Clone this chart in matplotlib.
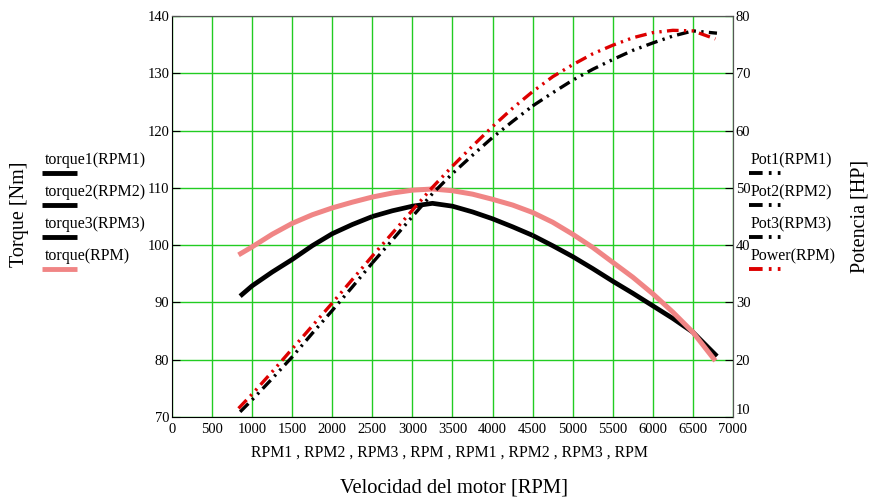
import matplotlib.pyplot as plt
from matplotlib.lines import Line2D

plt.rcParams['font.family'] = ['Liberation Serif', 'DejaVu Serif']

# ---------------- Data -------------------------------------
# torque1/2/3 share one black curve, split by speed range
rpm1 = [850, 1000, 1250, 1500, 1750, 2000, 2250, 2500]
torque1 = [91.1, 92.9, 95.3, 97.5, 99.9, 102.0, 103.6, 105.0]
rpm2 = [2500, 2750, 3000, 3250, 3500, 3750, 4000, 4250, 4500]
torque2 = [105.0, 106.0, 106.8, 107.3, 106.8, 105.8, 104.6, 103.2, 101.7]
rpm3 = [4500, 4750, 5000, 5250, 5500, 5750, 6000, 6250, 6500, 6800]
torque3 = [101.7, 99.9, 98.0, 95.9, 93.7, 91.6, 89.4, 87.2, 84.8, 80.6]

pot1 = [10.9, 13.0, 16.7, 20.5, 24.6, 28.6, 32.7, 36.9]
pot2 = [36.9, 40.9, 45.0, 49.0, 52.5, 55.7, 58.8, 61.6, 64.3]
pot3 = [64.3, 66.6, 68.8, 70.7, 72.4, 74.0, 75.3, 76.5, 77.4, 77.0]

rpm = [830, 1000, 1250, 1500, 1750, 2000, 2250, 2500, 2750, 3000, 3250, 3500,
       3750, 4000, 4250, 4500, 4750, 5000, 5250, 5500, 5750, 6000, 6250, 6500, 6780]
torque = [98.3, 99.7, 101.9, 103.8, 105.3, 106.5, 107.5, 108.4, 109.1, 109.6, 109.8, 109.5,
          108.9, 108.0, 107.0, 105.7, 104.0, 101.9, 99.6, 97.0, 94.4, 91.5, 88.3, 84.8, 79.8]
power = [11.5, 14.0, 17.9, 21.9, 25.9, 29.9, 34.0, 38.1, 42.1, 46.1, 50.1, 53.8,
         57.3, 60.7, 63.9, 66.8, 69.4, 71.5, 73.4, 74.9, 76.2, 77.1, 77.5, 77.4, 76.0]

x_ticks = list(range(0, 7001, 500))
left_ticks = list(range(70, 141, 10))
right_ticks = list(range(10, 81, 10))

# ---------------- Styles -----------------
grid_green = '#22cc22'
pink = '#f08585'
red = '#dd0000'
dash = (0, (3.5, 1.6, 0.7, 1.6, 0.7, 1.6))

fig = plt.figure(figsize=(8.75, 4.99), dpi=100)
ax = fig.add_axes([172/875, 1-417/499, 561/875, 401/499])
ax2 = ax.twinx()

# torque curves
for r, t in [(rpm1, torque1), (rpm2, torque2), (rpm3, torque3)]:
    ax.plot(r, t, color='black', lw=3.4, solid_capstyle='butt')
ax.plot(rpm, torque, color=pink, lw=3.6, solid_capstyle='butt')

# power curves
for r, p in [(rpm1, pot1), (rpm2, pot2), (rpm3, pot3)]:
    ax2.plot(r, p, color='black', lw=2.4, linestyle=dash, dash_capstyle='butt')
ax2.plot(rpm, power, color=red, lw=2.4, linestyle=dash, dash_capstyle='butt')

ax.set_xlim(0, 7000)
ax.set_ylim(70, 140)
ax2.set_ylim(10, 80)
ax.set_xticks(x_ticks)
ax.set_yticks(left_ticks)
ax2.set_yticks(right_ticks)
ax.grid(True, color=grid_green, lw=1)
ax.set_axisbelow(True)

ax.tick_params(axis='x', length=0, labelsize=10.5, pad=4)
ax.tick_params(axis='y', direction='in', length=6, labelsize=10.5, pad=2)
ax2.tick_params(axis='y', direction='in', length=6, labelsize=10.5, pad=2)
# lowest right label sits above the corner, clear of "7000"
ax2.get_yticklabels()[0].set_verticalalignment('bottom')
for s in ['top', 'right']:
    ax.spines[s].set_color('#555555')
    ax2.spines[s].set_color('#555555')
for s in ['left', 'bottom']:
    ax.spines[s].set_color('black')
ax2.spines['left'].set_visible(False)
ax2.spines['bottom'].set_visible(False)

# axis texts
fig.text(449/875, 1-453/499, 'RPM1 , RPM2 , RPM3 , RPM , RPM1 , RPM2 , RPM3 , RPM',
         ha='center', va='center', fontsize=11.3)
fig.text(454/875, 1-488/499, 'Velocidad del motor [RPM]', ha='center', va='center', fontsize=14.8)
fig.text(20/875, 1-214/499, 'Torque [Nm]', rotation=90, ha='center', va='center', fontsize=14.5)
fig.text(860/875, 1-216/499, 'Potencia [HP]', rotation=90, ha='center', va='center', fontsize=14.5)

# legends: label above a short line sample
left_items = [('torque1(RPM1)', 'black'), ('torque2(RPM2)', 'black'),
              ('torque3(RPM3)', 'black'), ('torque(RPM)', pink)]
right_items = [('Pot1(RPM1)', 'black'), ('Pot2(RPM2)', 'black'),
               ('Pot3(RPM3)', 'black'), ('Power(RPM)', red)]
text_y = [160, 192, 224, 256]
for (lab, col), ty in zip(left_items, text_y):
    fig.text(45/875, 1-ty/499, lab, ha='left', va='center', fontsize=11.5)
    fig.add_artist(Line2D([42/875, 77/875], [1-(ty+13)/499]*2, color=col, lw=3.5,
                          solid_capstyle='butt'))
for (lab, col), ty in zip(right_items, text_y):
    fig.text(751/875, 1-ty/499, lab, ha='left', va='center', fontsize=11.5)
    fig.add_artist(Line2D([749/875, 781/875], [1-(ty+13)/499]*2, color=col, lw=2.8,
                          linestyle=dash, dash_capstyle='butt'))

fig.savefig('out.png', dpi=100)
